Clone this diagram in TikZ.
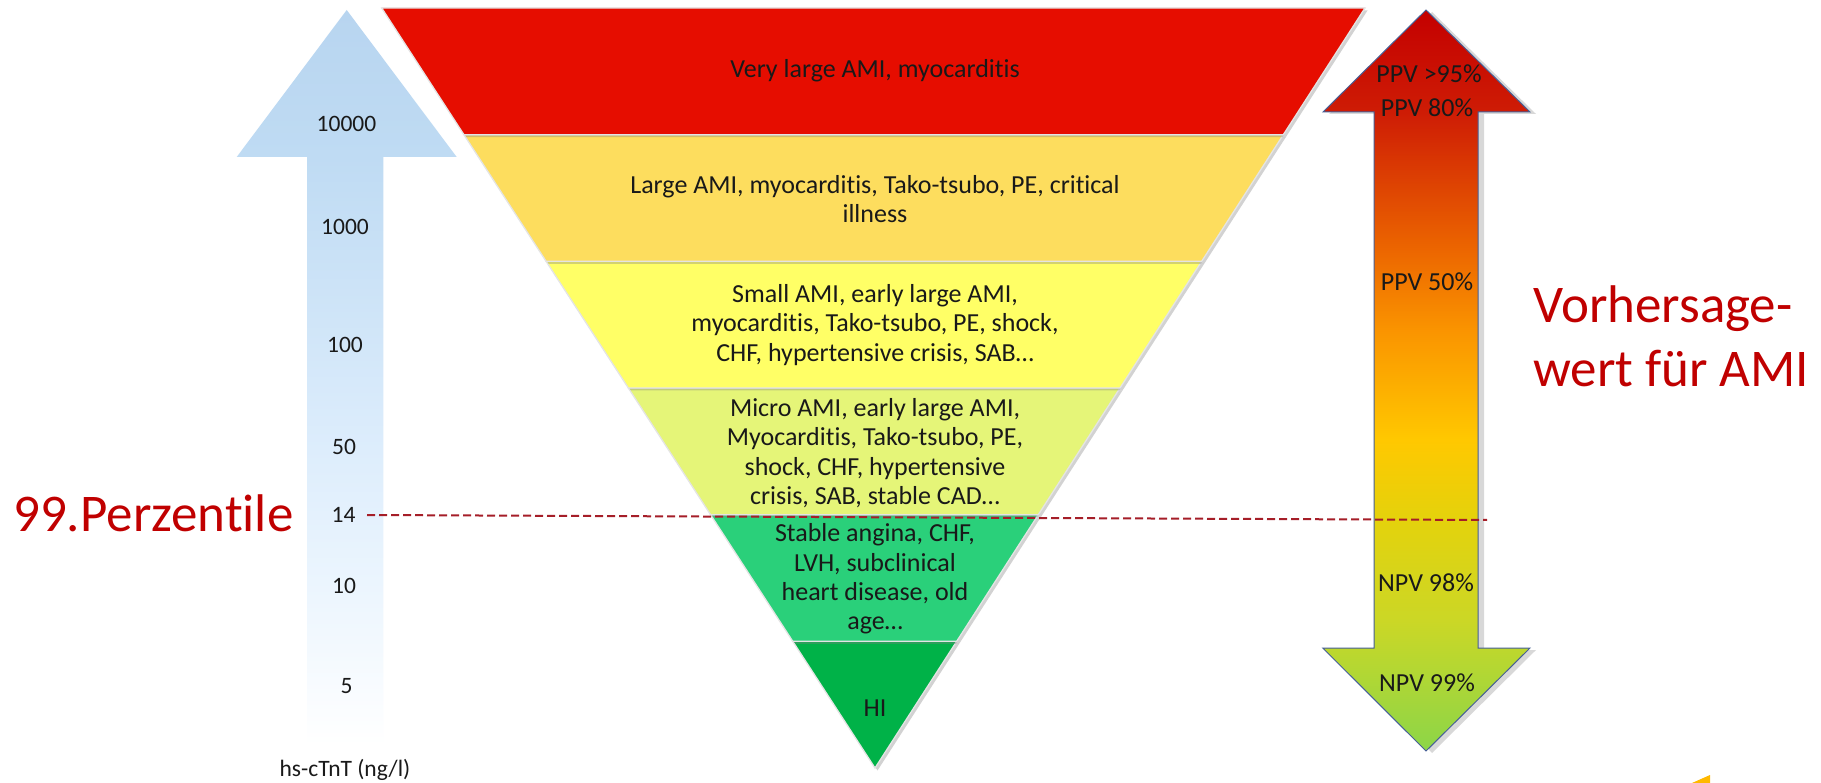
\documentclass[tikz,border=0pt]{standalone}
\usepackage{fontspec}
\setmainfont{Carlito}[Ligatures={NoCommon}]
\usetikzlibrary{shadows,calc}

\definecolor{bandA}{RGB}{230,13,0}
\definecolor{bandB}{RGB}{253,221,94}
\definecolor{bandC}{RGB}{255,255,102}
\definecolor{bandD}{RGB}{229,245,120}
\definecolor{bandE}{RGB}{42,208,122}
\definecolor{bandF}{RGB}{0,178,72}
\definecolor{redtxt}{RGB}{192,0,0}
\definecolor{dashred}{RGB}{165,30,40}
\definecolor{arrowedge}{RGB}{70,95,150}
\definecolor{txtdark}{RGB}{25,25,25}
\definecolor{sepline}{RGB}{228,228,228}
\definecolor{cornerorange}{RGB}{255,185,0}
% right arrow gradient stops
\definecolor{pA}{RGB}{196,0,0}
\definecolor{pB}{RGB}{206,28,5}
\definecolor{pC}{RGB}{236,102,0}
\definecolor{pD}{RGB}{250,148,0}
\definecolor{pE}{RGB}{255,200,0}
\definecolor{pF}{RGB}{228,210,12}
\definecolor{pG}{RGB}{203,215,38}
\definecolor{pH}{RGB}{140,214,72}
% left arrow gradient stops
\definecolor{bA}{RGB}{184,213,240}
\definecolor{bB}{RGB}{191,219,243}
\definecolor{bC}{RGB}{221,237,252}
\definecolor{bD}{RGB}{237,246,254}
\definecolor{bE}{RGB}{255,255,255}

\pgfdeclareverticalshading{ppvshade}{100bp}{color(0bp)=(pH); color(25bp)=(pH); color(33.8bp)=(pG); color(40.6bp)=(pF); color(46bp)=(pE); color(53.4bp)=(pD); color(58.8bp)=(pC); color(68.1bp)=(pB); color(75bp)=(pA); color(100bp)=(pA)}
\pgfdeclareverticalshading{blueshade}{100bp}{color(0bp)=(bE); color(25bp)=(bE); color(34.9bp)=(bD); color(45.1bp)=(bC); color(65bp)=(bB); color(75bp)=(bA); color(100bp)=(bA)}

\tikzset{
  band/.style={draw=sepline, line width=1.3pt, line join=miter,
    drop shadow={shadow xshift=2.5pt, shadow yshift=-2.5pt, opacity=0.35}},
  bandtext/.style={text=txtdark, align=center, inner sep=0pt,
    font=\fontsize{26}{29.3}\selectfont},
  scalelabel/.style={text=txtdark, inner sep=0pt, font=\fontsize{23.5}{26}\selectfont},
  pvlabel/.style={text=black!90, inner sep=0pt, font=\fontsize{26}{28}\selectfont},
  redlabel/.style={text=redtxt, inner sep=0pt, anchor=base west, font=\fontsize{53}{62}\selectfont},
  percline/.style={draw=dashred, line width=2pt, dash pattern=on 8pt off 4pt},
}

\begin{document}
\begin{tikzpicture}[x=1pt, y=-1pt]
\useasboundingbox[fill=white] (0,0) rectangle (1821,783);

% ---------------- left arrow (hs-cTnT scale)
\path[shade, shading=blueshade] (346.7,10) -- (456.7,157) -- (383.3,157) -- (383.3,745)
  -- (307,745) -- (307,157) -- (236.7,157) -- cycle;

% ---------------- funnel
\coordinate (TL) at (381.7,8);
\coordinate (TR) at (1365,8);
\coordinate (AP) at (875,768);
\foreach \k in {1,...,5}{
  \coordinate (L\k) at ($(TL)!\k/6!(AP)$);
  \coordinate (R\k) at ($(TR)!\k/6!(AP)$);
}
\path[band, fill=bandF] (L5) -- (R5) -- (AP) -- cycle;
\path[band, fill=bandE] (L4) -- (R4) -- (R5) -- (L5) -- cycle;
\path[band, fill=bandD] (L3) -- (R3) -- (R4) -- (L4) -- cycle;
\path[band, fill=bandC] (L2) -- (R2) -- (R3) -- (L3) -- cycle;
\path[band, fill=bandB] (L1) -- (R1) -- (R2) -- (L2) -- cycle;
\path[band, fill=bandA] (TL) -- (TR) -- (R1) -- (L1) -- cycle;

\node[bandtext] (tA) at (875,71) {Very large AMI, myocarditis};
\node[bandtext] (tB) at (875,199) {Large AMI, myocarditis, Tako-tsubo, PE, critical\\illness};
\node[bandtext] (tC) at (875,325) {Small AMI, early large AMI,\\myocarditis, Tako-tsubo, PE, shock,\\CHF, hypertensive crisis, SAB…};
\node[bandtext] (tD) at (875,453) {Micro AMI, early large AMI,\\Myocarditis, Tako-tsubo, PE,\\shock, CHF, hypertensive\\crisis, SAB, stable CAD…};
\node[bandtext] (tE) at (875,579) {Stable angina, CHF,\\LVH, subclinical\\heart disease, old\\age…};
\node[bandtext] (tF) at (875,708) {HI};

% ---------------- right arrow (predictive values)
\path[shade, shading=ppvshade, draw=arrowedge, line width=1pt, line join=miter,
  drop shadow={shadow xshift=6pt, shadow yshift=-2pt, opacity=0.3}]
  (1426,10) -- (1530,112) -- (1478,112) -- (1478,648) -- (1530,648) -- (1426,751)
  -- (1322.7,648) -- (1374,648) -- (1374,112) -- (1323,112) -- cycle;

\node[pvlabel] (p95) at (1429,74) {PPV >95\%};
\node[pvlabel] (p80) at (1427,108) {PPV 80\%};
\node[pvlabel] (p50) at (1427,282) {PPV 50\%};
\node[pvlabel] (n98) at (1426,583) {NPV 98\%};
\node[pvlabel] (n99) at (1427,683) {NPV 99\%};

% ---------------- scale labels
\node[scalelabel] (s10000) at (346.5,124) {10000};
\node[scalelabel] (s1000) at (345,227) {1000};
\node[scalelabel] (s100) at (345,345) {100};
\node[scalelabel] (s50) at (344,447) {50};
\node[scalelabel] (s14) at (343.5,515) {14};
\node[scalelabel] (s10) at (344,586) {10};
\node[scalelabel] (s5) at (346.5,686) {5};
\node[scalelabel] (unit) at (345,770) {hs-cTnT (ng/l)};

% ---------------- red annotations
\node[redlabel] (perz) at (13,531.7) {99.Perzentile};
\node[redlabel] (vor1) at (1533,323) {Vorhersage-};
\node[redlabel] (vor2) at (1533,386.7) {wert für AMI};

% ---------------- 99th percentile line
\coordinate (dashL) at (367,515);
\coordinate (dashR) at (1487,520);
\draw[percline] (dashL) -- (dashR);

% ---------------- cut-off corner fragment
\fill[cornerorange] (1692,783) -- (1710,775) -- (1710,783) -- cycle;
\end{tikzpicture}
\end{document}
